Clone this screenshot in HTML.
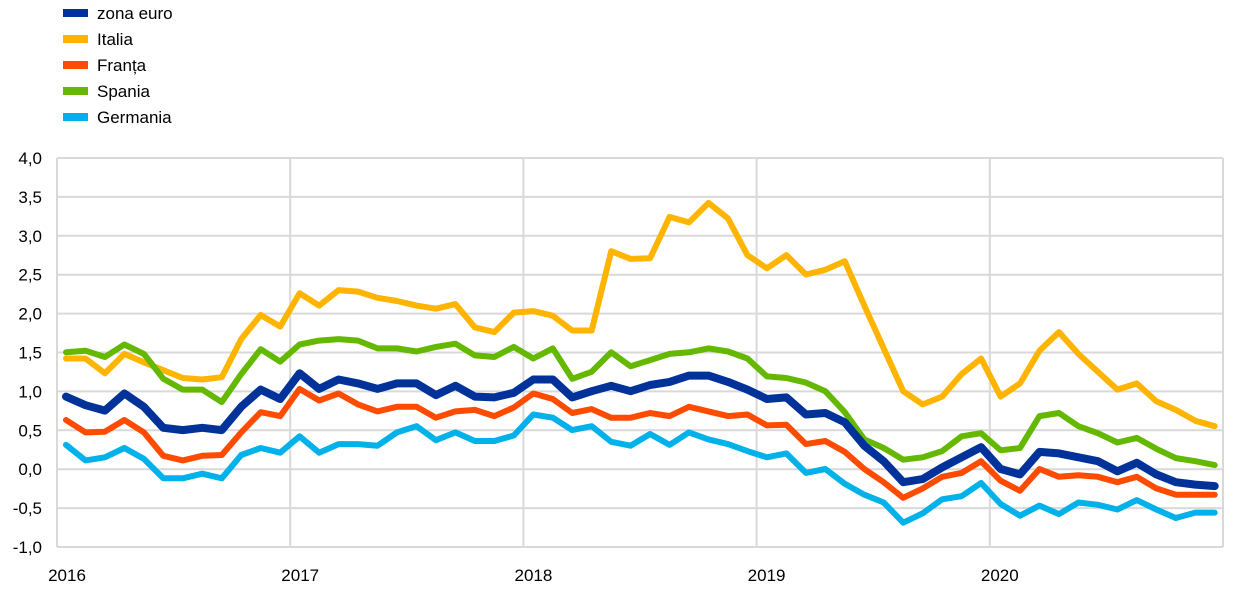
<!DOCTYPE html>
<html><head><meta charset="utf-8"><style>
body{margin:0;background:#fff;width:1240px;height:589px;overflow:hidden;font-family:"Liberation Sans",sans-serif}
</style></head><body>
<svg id="s" width="1240" height="589" xmlns="http://www.w3.org/2000/svg" font-family="Liberation Sans, sans-serif" font-size="17" fill="#000"></svg>
<script>
const s=document.getElementById('s');let h='';
const L=57,R=1223,T=158,B=547;
const Y=v=>469-v*77.8;
for(let i=0;i<=10;i++){const y=T+(B-T)*i/10;h+=`<line x1="${L}" x2="${R}" y1="${y}" y2="${y}" stroke="#d9d9d9" stroke-width="2"/>`;
h+=`<text x="42" y="${y+6}" text-anchor="end">${(4-i*0.5).toFixed(1).replace('.',',')}</text>`;}
for(let k=0;k<=5;k++){const x=L+233.2*k;h+=`<line x1="${x}" x2="${x}" y1="${T}" y2="${B}" stroke="#d9d9d9" stroke-width="2"/>`;
if(k<5)h+=`<text x="${67+233.2*k}" y="581" text-anchor="middle">${2016+k}</text>`;}
const D={
it:[1.42,1.42,1.23,1.48,1.37,1.27,1.17,1.15,1.18,1.67,1.98,1.83,2.26,2.10,2.30,2.28,2.20,2.16,2.10,2.06,2.12,1.82,1.76,2.01,2.03,1.97,1.78,1.78,2.80,2.70,2.71,3.24,3.17,3.42,3.22,2.75,2.58,2.75,2.50,2.56,2.67,2.10,1.55,1.00,0.83,0.93,1.22,1.42,0.93,1.10,1.52,1.76,1.48,1.25,1.02,1.10,0.87,0.76,0.62,0.55],
es:[1.50,1.52,1.44,1.60,1.48,1.16,1.02,1.02,0.86,1.22,1.54,1.38,1.60,1.65,1.67,1.65,1.55,1.55,1.51,1.57,1.61,1.46,1.44,1.57,1.42,1.55,1.16,1.25,1.50,1.32,1.40,1.48,1.50,1.55,1.51,1.42,1.19,1.17,1.11,1.00,0.73,0.38,0.27,0.12,0.15,0.23,0.42,0.46,0.24,0.27,0.68,0.72,0.55,0.46,0.34,0.40,0.26,0.14,0.10,0.05],
fr:[0.63,0.47,0.48,0.63,0.47,0.17,0.11,0.17,0.18,0.47,0.73,0.68,1.03,0.88,0.97,0.83,0.74,0.80,0.80,0.66,0.74,0.76,0.68,0.79,0.97,0.90,0.72,0.77,0.66,0.66,0.72,0.68,0.80,0.74,0.68,0.70,0.56,0.57,0.32,0.36,0.22,0.00,-0.17,-0.37,-0.25,-0.10,-0.05,0.10,-0.15,-0.28,0.00,-0.10,-0.08,-0.10,-0.17,-0.10,-0.25,-0.33,-0.33,-0.33],
de:[0.31,0.11,0.15,0.27,0.13,-0.12,-0.12,-0.06,-0.12,0.18,0.27,0.21,0.42,0.21,0.32,0.32,0.30,0.47,0.55,0.37,0.47,0.36,0.36,0.43,0.70,0.66,0.50,0.55,0.35,0.30,0.45,0.31,0.47,0.38,0.32,0.23,0.15,0.20,-0.05,0.00,-0.19,-0.33,-0.43,-0.69,-0.57,-0.39,-0.35,-0.18,-0.45,-0.60,-0.47,-0.58,-0.43,-0.46,-0.52,-0.40,-0.52,-0.63,-0.56,-0.56],
ez:[0.93,0.82,0.75,0.97,0.80,0.53,0.50,0.53,0.50,0.80,1.02,0.90,1.23,1.03,1.15,1.10,1.03,1.10,1.10,0.95,1.07,0.93,0.92,0.98,1.15,1.15,0.92,1.00,1.07,1.00,1.08,1.12,1.20,1.20,1.12,1.02,0.90,0.92,0.70,0.72,0.60,0.30,0.10,-0.17,-0.13,0.02,0.15,0.28,0.00,-0.07,0.22,0.20,0.15,0.10,-0.03,0.08,-0.07,-0.17,-0.20,-0.22]};
const S=[['it','#ffb400',6],['es','#65b800',6],['fr','#ff4b00',6],['de','#00b1ea',6],['ez','#003299',8]];
for(const [k,c,w] of S){h+=`<polyline fill="none" stroke="${c}" stroke-width="${w}" stroke-linejoin="round" stroke-linecap="round" points="${D[k].map((v,i)=>(66+i*19.47).toFixed(1)+','+Y(v).toFixed(1)).join(' ')}"/>`;}
const lg=[['zona euro','#003299'],['Italia','#ffb400'],['Franța','#ff4b00'],['Spania','#65b800'],['Germania','#00b1ea']];
lg.forEach(([t,c],i)=>{const y=13+i*26;h+=`<line x1="63" x2="88" y1="${y}" y2="${y}" stroke="${c}" stroke-width="8"/><text x="97" y="${y+6}">${t}</text>`;});
s.innerHTML=h;
</script>
</body></html>
